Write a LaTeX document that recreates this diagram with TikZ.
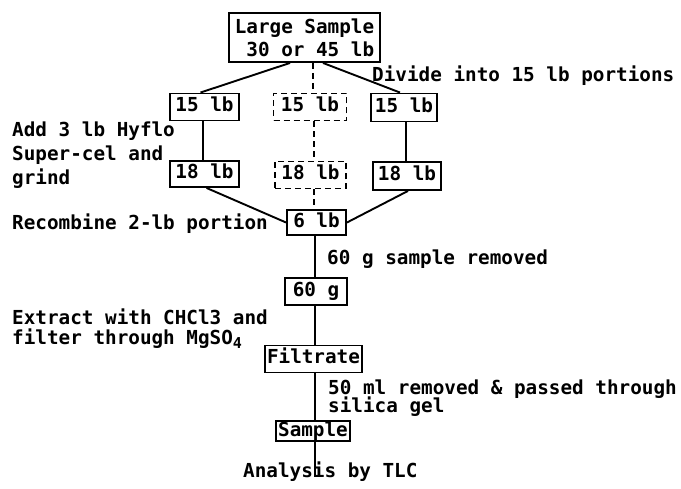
\documentclass[tikz,border=0pt]{standalone}
\usepackage{fontspec}
\setmainfont{DejaVu Sans Mono}[BoldFont={DejaVu Sans Mono Bold}]
\usetikzlibrary{calc}
\begin{document}
\begin{tikzpicture}[x=1pt,y=-1pt,
  every node/.style={font=\fontsize{19.3}{23}\selectfont\bfseries},
  plainbox/.style={draw,line width=1.9pt,inner sep=0pt,anchor=center},
  box/.style={plainbox,text height=14pt,text depth=4pt},
  dbox/.style={box,dash pattern=on 6pt off 4pt},
  lbl/.style={anchor=base west,inner sep=0pt,align=left},
  conn/.style={line width=1.9pt},
  dconn/.style={line width=1.9pt,dash pattern=on 6pt off 4pt}]
\useasboundingbox (0,0) rectangle (681,489);
% boxes
\node[plainbox,minimum width=151pt,minimum height=49pt,align=left] (big) at (304.5,37.5) {Large Sample\\[0pt]\phantom{0}30 or 45 lb};
\node[box,minimum width=69pt,minimum height=27pt] (l15) at (204.5,107) {15 lb};
\node[dbox,minimum width=73pt,minimum height=27pt] (m15) at (310,107) {15 lb};
\node[box,minimum width=66pt,minimum height=28pt] (r15) at (404,107.5) {15 lb};
\node[box,minimum width=69pt,minimum height=26pt] (l18) at (204.5,174) {18 lb};
\node[dbox,minimum width=71pt,minimum height=27pt] (m18) at (310.5,175) {18 lb};
\node[box,minimum width=68pt,minimum height=28pt] (r18) at (407,176) {18 lb};
\node[box,minimum width=59pt,minimum height=25pt] (six) at (316.5,222.5) {6 lb};
\node[box,minimum width=62pt,minimum height=27pt] (sixty) at (316,291.5) {60 g};
\node[box,minimum width=97pt,minimum height=27pt] (filt) at (313.5,359) {Filtrate};
\node[box,minimum width=74pt,minimum height=20pt,text height=13pt,text depth=3pt] (samp) at (313,431) {Sample};
% labels
\node[lbl] (divide) at (372,82) {Divide into 15 lb portions};
\node[lbl] (add) at (12,137) {Add 3 lb Hyflo};
\node[lbl] (super) at (12,161) {Super-cel and};
\node[lbl] (grind) at (12,185) {grind};
\node[lbl] (recomb) at (12,230) {Recombine 2-lb portion};
\node[lbl] (removed) at (327,265) {60 g sample removed};
\node[lbl] (extract) at (12,325) {Extract with CHCl3 and};
\node[lbl] (filter) at (12,345) {filter through MgSO\raisebox{-4pt}{\fontsize{15}{15}\selectfont 4}};
\node[lbl] (ml) at (328,395) {50 ml removed \& passed through};
\node[lbl] (silica) at (328,413) {silica gel};
\node[lbl] (tlc) at (243,477) {Analysis by TLC};
% connectors
\draw[conn] ([xshift=-14.5pt]big.south) -- ([xshift=-4pt]l15.north);
\draw[conn] ([xshift=18.5pt]big.south) -- ([xshift=-4pt]r15.north);
\draw[dconn] ([xshift=8.5pt]big.south) -- ([xshift=3pt]m15.north);
\draw[conn] ([xshift=-1.5pt]l15.south) -- ([xshift=-1.5pt]l18.north);
\draw[dconn] ([xshift=4pt]m15.south) -- ([xshift=3.5pt]m18.north);
\draw[conn] ([xshift=2pt]r15.south) -- ([xshift=-1pt]r18.north);
\draw[conn] ([xshift=2pt]l18.south) -- (six.west);
\draw[conn] ([xshift=1pt]r18.south) -- (six.east);
\draw[dconn] ([xshift=3.5pt]m18.south) -- ([xshift=-2.5pt]six.north);
\draw[conn] ([xshift=-1.5pt]six.south) -- ([xshift=-1pt]sixty.north);
\draw[conn] ([xshift=-1pt]sixty.south) -- ([xshift=1.5pt]filt.north);
\draw[conn] ([xshift=1.5pt]filt.south) -- ([xshift=2pt]samp.north);
\draw[conn] ([xshift=2pt]samp.south) -- ([xshift=2pt]samp.south |- tlc.base);
\end{tikzpicture}
\end{document}
